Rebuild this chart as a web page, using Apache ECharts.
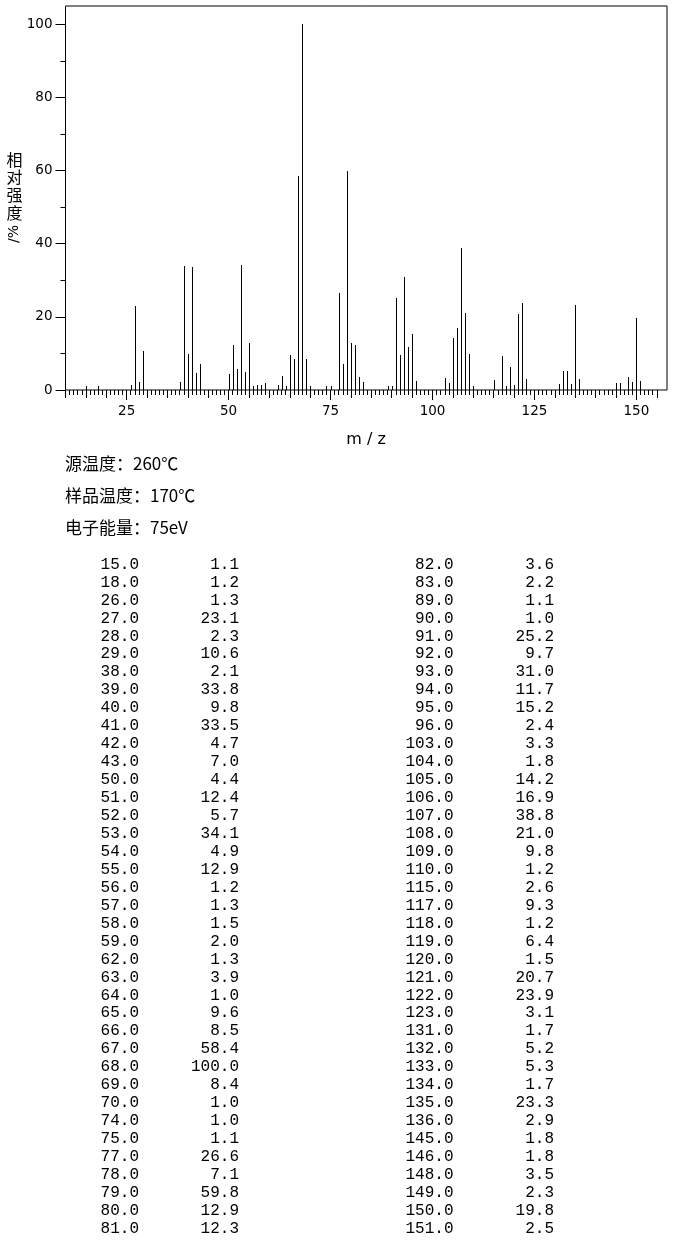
<!DOCTYPE html>
<html>
<head>
<meta charset="utf-8">
<script src="https://cdn.jsdelivr.net/npm/echarts@6/dist/echarts.min.js"></script>
<style>
html,body{margin:0;padding:0;background:#fff;}
#c{width:680px;height:1247px;}
</style>
</head>
<body>
<div id="c"></div>
<script>
// m/z values and relative intensities (%)
const mzValues = [15,18,26,27,28,29,38,39,40,41,42,43,50,51,52,53,54,55,56,57,58,59,62,63,64,65,66,67,68,69,70,74,75,77,78,79,80,81,
  82,83,89,90,91,92,93,94,95,96,103,104,105,106,107,108,109,110,115,117,118,119,120,121,122,123,131,132,133,134,135,136,145,146,148,149,150,151];
const intensities = [1.1,1.2,1.3,23.1,2.3,10.6,2.1,33.8,9.8,33.5,4.7,7.0,4.4,12.4,5.7,34.1,4.9,12.9,1.2,1.3,1.5,2.0,1.3,3.9,1.0,9.6,8.5,58.4,100.0,8.4,1.0,1.0,1.1,26.6,7.1,59.8,12.9,12.3,
  3.6,2.2,1.1,1.0,25.2,9.7,31.0,11.7,15.2,2.4,3.3,1.8,14.2,16.9,38.8,21.0,9.8,1.2,2.6,9.3,1.2,6.4,1.5,20.7,23.9,3.1,1.7,5.2,5.3,1.7,23.3,2.9,1.8,1.8,3.5,2.3,19.8,2.5];
const xTickLabels = [25,50,75,100,125,150];
const yTickLabels = [0,20,40,60,80,100];
const infoLines = ['源温度：260℃','样品温度：170℃','电子能量：75eV'];
const xAxisName = 'm / z';
const yAxisNameChars = '相\n对\n强\n度';
const yAxisNameUnit = '/%';

const chart = echarts.init(document.getElementById('c'), null, {renderer:'canvas', width:680, height:1247});

const L = 65.5, T = 6, W = 601.5, H = 384;
const xMin = 10, xMax = 157.5, yMax = 105;
const k = W / (xMax - xMin);
const ky = H / yMax;
const top1 = T + H - 100 * ky;
const h1 = 100 * ky;

const tickFont = {fontFamily:'DejaVu Sans', fontSize:13.5, color:'#000'};

const graphics = [];
// y axis name
graphics.push({type:'text', x:14.5, y:151, style:{text:yAxisNameChars, fontFamily:'Noto Sans CJK SC', fontSize:16, lineHeight:17.6, fill:'#000', align:'center', verticalAlign:'top'}});
graphics.push({type:'text', x:14.5, y:234, rotation:Math.PI/2, style:{text:yAxisNameUnit, fontFamily:'DejaVu Sans', fontSize:14, fill:'#000', align:'center', verticalAlign:'middle'}});
// x axis name
graphics.push({type:'text', x:366, y:440, style:{text:xAxisName, fontFamily:'DejaVu Sans', fontSize:16, fill:'#000', align:'center', verticalAlign:'middle'}});
// info lines
infoLines.forEach((s,i)=>{
  graphics.push({type:'text', x:65, y:464 + i*32, style:{text:s, fontFamily:'Noto Sans CJK SC', fontSize:17, fill:'#000', align:'left', verticalAlign:'middle'}});
});
// peak table
const rows = 38;
const colX = [139, 239, 453.5, 554];
mzValues.forEach((m,i)=>{
  const block = i < rows ? 0 : 1;
  const r = i % rows;
  const y = 564.5 + r * 17.95;
  graphics.push({type:'text', x:colX[block*2], y:y, style:{text:m.toFixed(1), fontFamily:'Liberation Mono', fontSize:16, fill:'#000', align:'right', verticalAlign:'middle'}});
  graphics.push({type:'text', x:colX[block*2+1], y:y, style:{text:intensities[i].toFixed(1), fontFamily:'Liberation Mono', fontSize:16, fill:'#000', align:'right', verticalAlign:'middle'}});
});

const option = {
  animation:false,
  backgroundColor:'#fff',
  grid:[
    {left:L, top:T, width:W, height:H, show:true, borderColor:'#000', borderWidth:1, backgroundColor:'transparent'},
    {left:L, top:top1, width:(155-xMin)*k, height:h1},
    {left:L + (25-xMin)*k, top:top1, width:125*k, height:h1}
  ],
  xAxis:[
    {gridIndex:0, type:'value', min:xMin, max:xMax, show:false},
    {gridIndex:1, position:'bottom', type:'value', min:xMin, max:155, interval:1, axisLine:{show:false}, axisTick:{show:true, length:5, lineStyle:{color:'#000'}}, axisLabel:{show:false}, splitLine:{show:false}},
    {gridIndex:1, position:'bottom', type:'value', min:xMin, max:155, interval:5, axisLine:{show:false}, axisTick:{show:true, length:8, lineStyle:{color:'#000'}}, axisLabel:{show:false}, splitLine:{show:false}},
    {gridIndex:2, position:'bottom', type:'value', min:25, max:150, interval:25, axisLine:{show:false}, axisTick:{show:true, length:10, lineStyle:{color:'#000'}},
      axisLabel:{show:true, margin:14, ...tickFont, formatter:(v)=> xTickLabels.includes(v) ? String(v) : ''}, splitLine:{show:false}}
  ],
  yAxis:[
    {gridIndex:0, type:'value', min:0, max:yMax, show:false},
    {gridIndex:1, position:'left', type:'value', min:0, max:100, interval:20, axisLine:{show:false},
      axisTick:{show:true, length:10, lineStyle:{color:'#000'}},
      minorTick:{show:true, splitNumber:2, length:5, lineStyle:{color:'#000'}},
      axisLabel:{show:true, margin:13, ...tickFont, formatter:(v)=> yTickLabels.includes(v) ? String(v) : ''}, splitLine:{show:false}},
    {gridIndex:2, type:'value', min:0, max:100, show:false}
  ],
  series:[
    {type:'custom', xAxisIndex:1, yAxisIndex:1, coordinateSystem:'cartesian2d',
      encode:{x:0, y:1},
      data: mzValues.map((m,i)=>[m, intensities[i]]),
      renderItem:(params, api)=>{
        const top = api.coord([api.value(0), api.value(1)]);
        const base = api.coord([api.value(0), 0]);
        const px = Math.round(top[0]) + 0.5;
        return {type:'line', shape:{x1:px, y1:Math.round(base[1]), x2:px, y2:Math.round(top[1])}, style:{stroke:'#000', lineWidth:1}};
      }}
  ],
  graphic: graphics
};
chart.setOption(option);
</script>
</body>
</html>
